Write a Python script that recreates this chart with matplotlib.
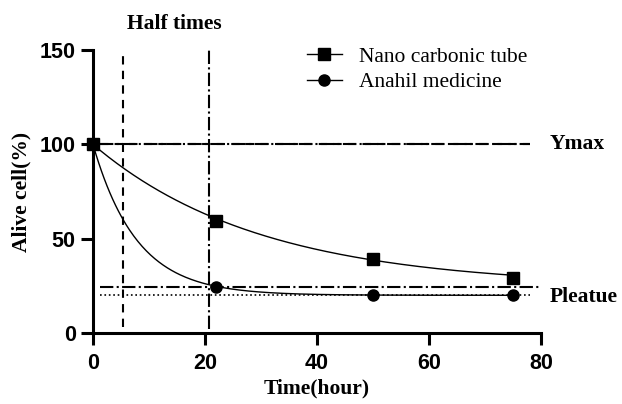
import numpy as np
import matplotlib.pyplot as plt

# measured points
time_pts = [0, 22, 50, 75]
nano_vals = [100, 59.3, 39.2, 29.3]
anahil_vals = [100, 24.4, 20.1, 20.0]

# one-phase decay fit parameters (Y0, plateau, half-life)
nano_fit = [100, 24.5, 20.7]
anahil_fit = [100, 20.0, 5.4]

serif = ["Liberation Serif", "DejaVu Serif"]
sans = ["Liberation Sans", "DejaVu Sans"]
fs = 15.5


def decay(x, y0, plateau, half):
    k = np.log(2) / half
    return (y0 - plateau) * np.exp(-k * x) + plateau


fig = plt.figure(figsize=(6.22, 4.04), dpi=100)
ax = fig.add_axes([0.1495, 0.1757, 0.7203, 0.7003])

x = np.linspace(0, 75, 300)
ax.plot(x, decay(x, *nano_fit), color="black", lw=1)
ax.plot(x, decay(x, *anahil_fit), color="black", lw=1)

ax.plot(time_pts, nano_vals, ls="none", marker="s", ms=8, color="black",
        clip_on=False, zorder=5)
ax.plot(time_pts, anahil_vals, ls="none", marker="o", ms=8, color="black",
        clip_on=False, zorder=5)

# legend handles
ax.plot([], [], color="black", lw=1, marker="s", ms=8, label="Nano carbonic tube")
ax.plot([], [], color="black", lw=1, marker="o", ms=8, label="Anahil medicine")

# reference lines
ax.plot([1.3, 78], [100, 100], color="black", lw=1.5, ls=(0, (4, 3)))
ax.plot([1.3, 78], [100, 100], color="black", lw=1.5, ls="-.")
ax.plot([1.3, 80], [nano_fit[1], nano_fit[1]], color="black", lw=1.5, ls="-.")
ax.plot([1.3, 78], [anahil_fit[1], anahil_fit[1]], color="black", lw=1.2, ls=":")
ax.plot([anahil_fit[2]] * 2, [3, 150], color="black", lw=1.5, ls=(0, (4, 3)))
ax.plot([nano_fit[2]] * 2, [2, 150], color="black", lw=1.5, ls="-.")

ax.text(14.6, 164, "Half times", ha="center", va="center", fontsize=fs,
        fontweight="bold", family=serif, clip_on=False)
ax.text(81.5, 100, "Ymax", ha="left", va="center", fontsize=fs,
        fontweight="bold", family=serif, clip_on=False)
ax.text(81.5, 19, "Pleatue", ha="left", va="center", fontsize=fs,
        fontweight="bold", family=serif, clip_on=False)

ax.set_xlim(0, 80)
ax.set_ylim(0, 150)
ax.set_xticks([0, 20, 40, 60, 80])
ax.set_yticks([0, 50, 100, 150])
for s in ["top", "right"]:
    ax.spines[s].set_visible(False)
for s in ["left", "bottom"]:
    ax.spines[s].set_linewidth(2.2)
ax.tick_params(width=2.2, length=8.5, labelsize=fs, pad=4)
ax.tick_params(axis="x", pad=6)
for lab in ax.get_xticklabels() + ax.get_yticklabels():
    lab.set_fontweight("bold")
    lab.set_family(sans)

ax.set_xlabel("Time(hour)", fontsize=fs, fontweight="bold", family=serif, labelpad=3)
ax.set_ylabel("Alive cell(%)", fontsize=fs, fontweight="bold", family=serif, labelpad=6)

ax.legend(loc="upper left", bbox_to_anchor=(0.435, 1.08), frameon=False,
          prop={"family": serif, "size": fs}, handlelength=1.6,
          handletextpad=0.8, labelspacing=0.25)

fig.savefig("out.png", dpi=100)
